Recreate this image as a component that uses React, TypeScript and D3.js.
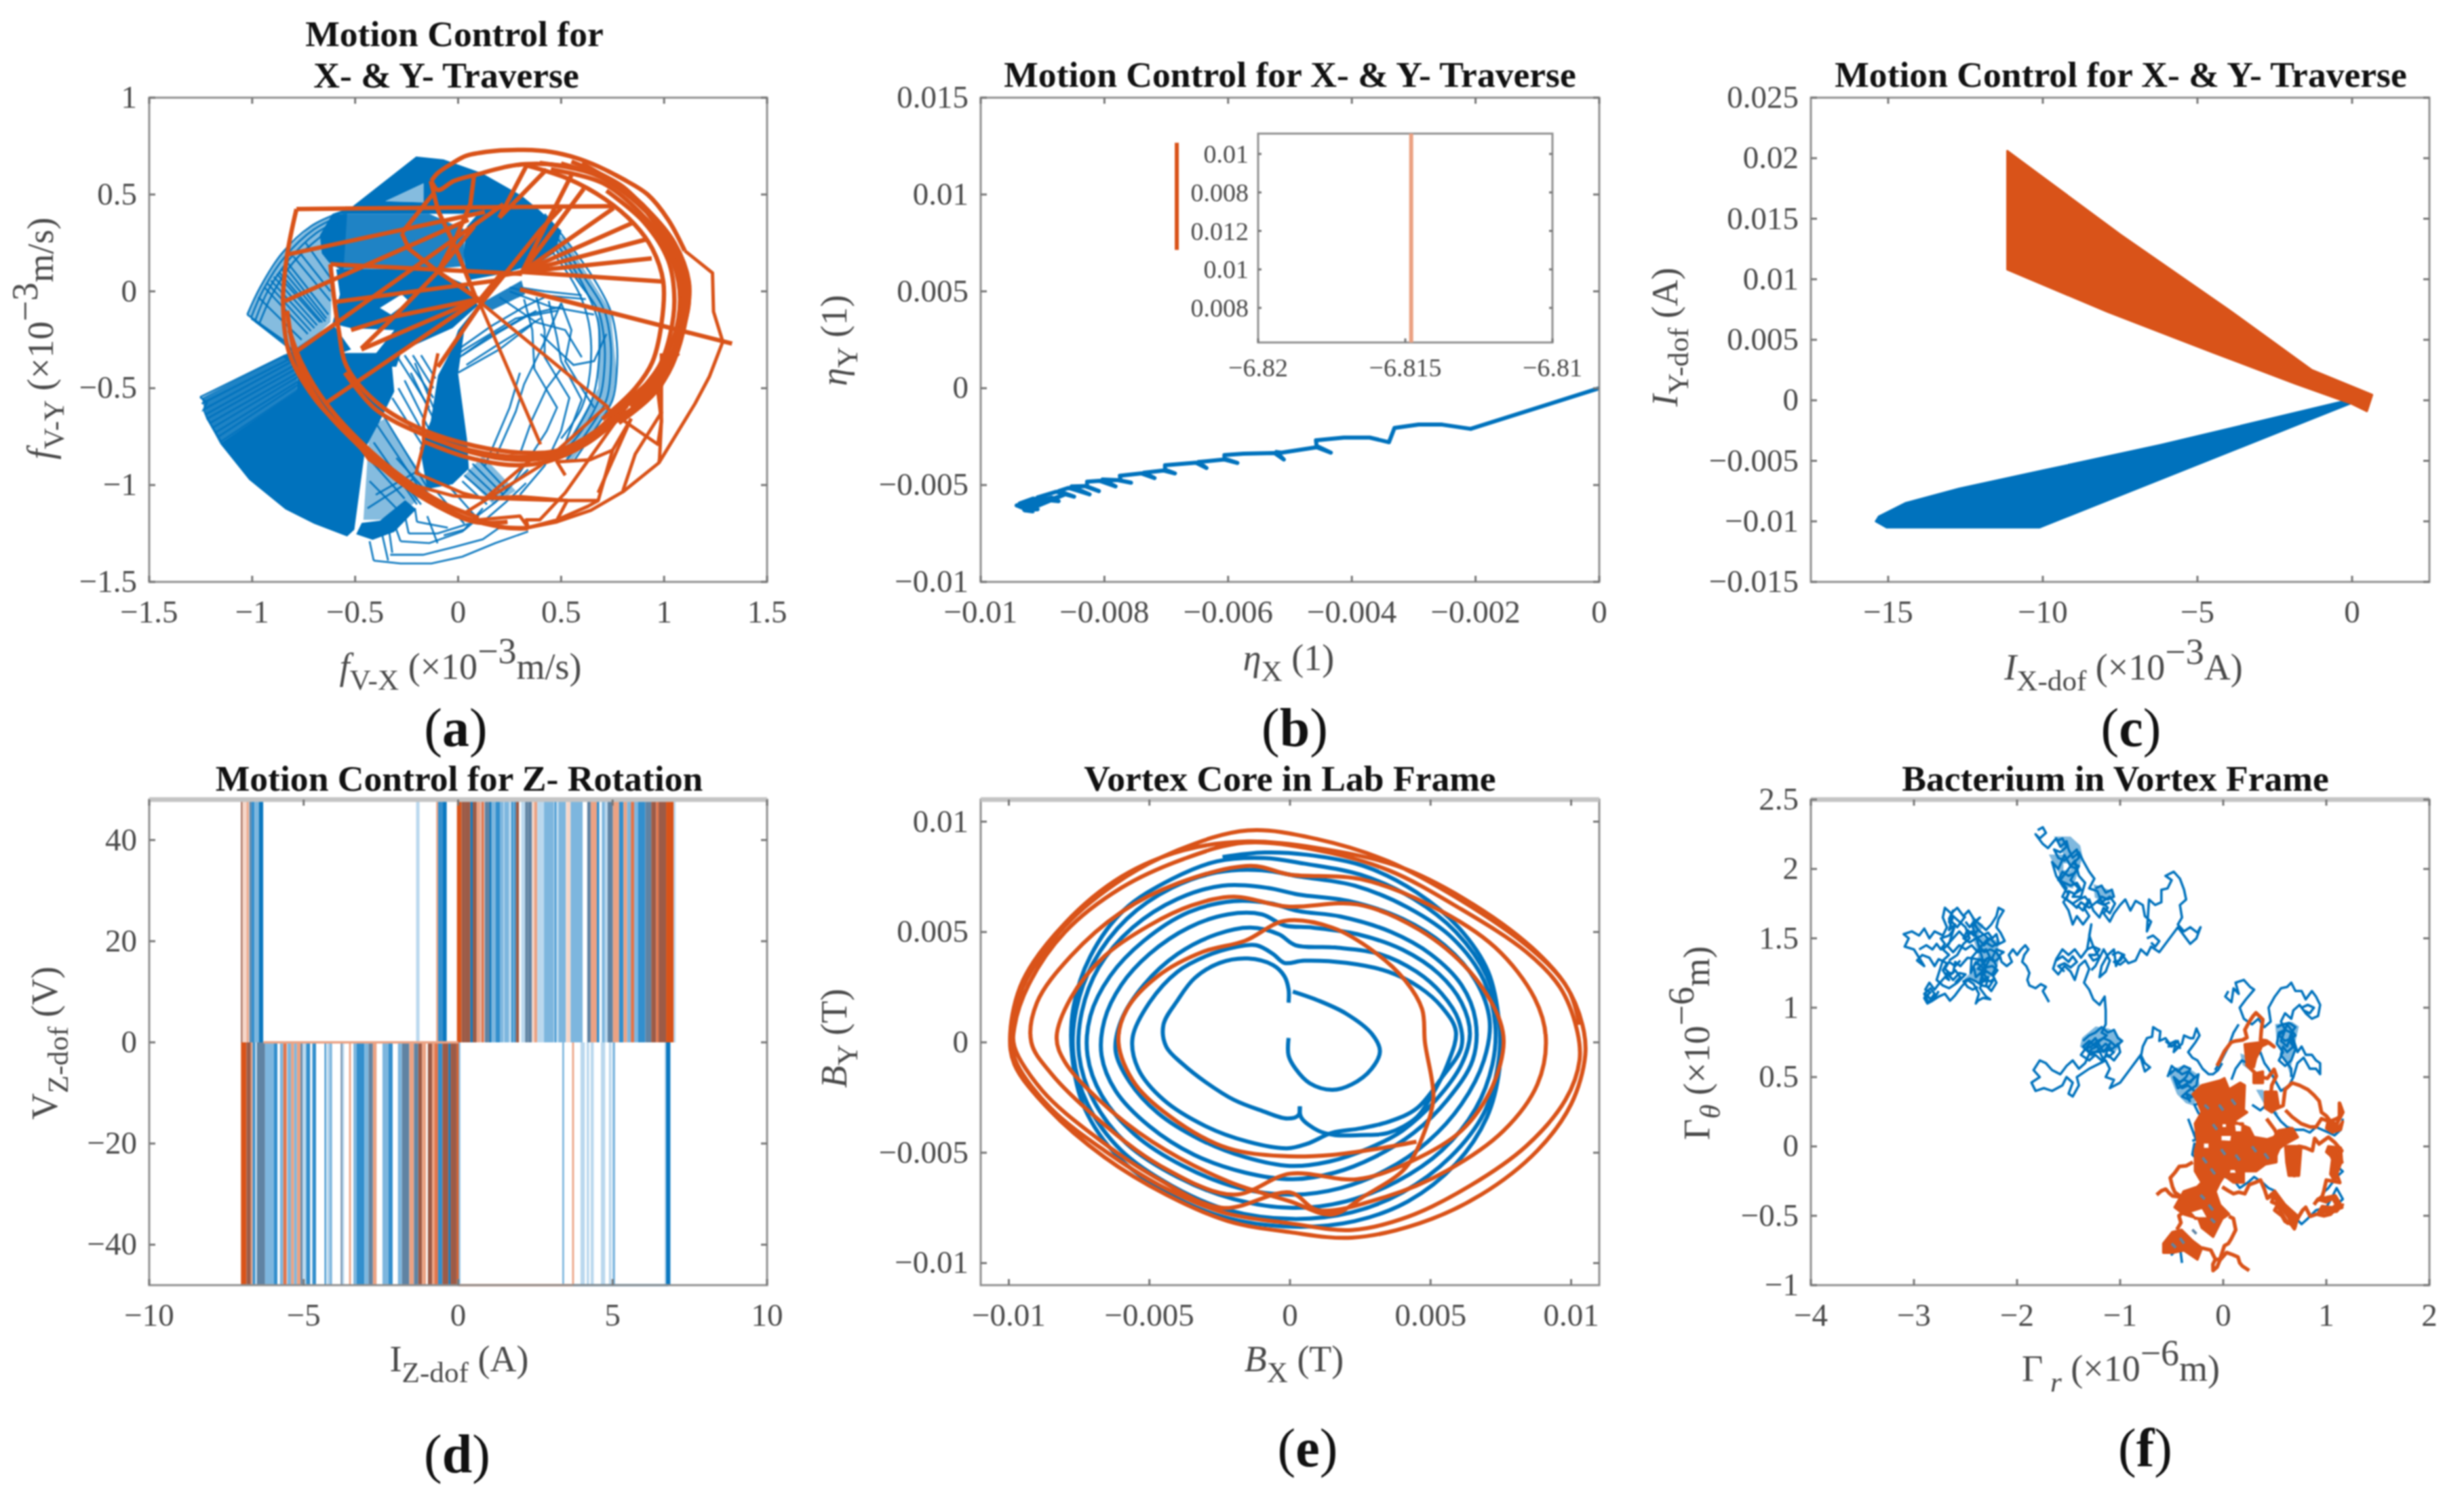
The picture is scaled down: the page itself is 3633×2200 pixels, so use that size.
import React from "react";
import * as d3 from "d3";

type P = [number, number];
const BLUE = "#0072BD";
const ORANGE = "#D95319";

// ---------- panel (a): f_V-X / f_V-Y, units 1e-3 m/s
const aXTicks = [-1.5, -1, -0.5, 0, 0.5, 1, 1.5];
const aYTicks = [-1.5, -1, -0.5, 0, 0.5, 1];
const aBlueSolid: P[][][] = [
  [[[-.521,.432],[-.204,.696],[-.071,.681],[.114,.611],[.308,.494],[.396,.418],[.502,.313],[.467,.196],[.396,.149],[.22,.091],[.043,.056],[.026,.196],[.043,.336],[.096,.4],[-.61,.4]],
   [[-.168,.558],[-.354,.465],[-.168,.459]]],
  [[[-.671,.29],[-.61,.4],[-.539,.4],[-.557,.102],[-.627,.149],[-.662,.196]]],
  [[[-.592,.114],[-.133,.114],[.043,.032],[.096,-.073],[-.027,-.19],[-.274,-.307],[-.3,-.389],[-.451,-.389],[-.38,-.295],[-.31,-.2],[-.521,-.19],[-.61,-.166],[-.574,-.015]],
   [[-.38,-.085],[-.274,-.015],[-.239,-.05],[-.327,-.12]]],
  [[[-.768,-.318],[-.327,-.318],[-.31,-.517],[-.38,-.669],[-.451,-.81],[-.504,-1.23],[-.539,-1.265],[-.7,-1.2],[-.839,-1.125],[-1.015,-.973],[-1.156,-.786],[-.786,-.517]]],
  [[[-.495,-1.254],[-.415,-1.283],[-.31,-1.242],[-.204,-1.125],[-.257,-1.078],[-.38,-1.184],[-.468,-1.195]]],
  [[[-.133,-.669],[-.098,-.435],[-.04,-.318],[.0,-.2],[.09,-.08],[.03,-.2],[0,-.424],[.043,-.763],[.052,-.915],[-.027,-.996],[-.15,-1.02],[-.186,-.81]]],
  [[[-.85,-.34],[-.61,-.166],[-.52,-.3],[-.77,-.4]]],
];
const aBlueDense: P[][] = [
  [[-.56,.4],[-.14,.4],[.03,.32],[.03,.13],[-.13,.115],[-.56,.115]],
  [[.114,-.06],[.308,.056],[.325,-.015],[.167,-.096]],
  [[-1.245,-.55],[-.83,-.32],[-.77,-.32],[-.786,-.517],[-1.156,-.786],[-1.22,-.66]],
];
const aBlueHatch: P[][] = [
  [[-1.024,-.12],[-.962,.02],[-.856,.196],[-.715,.336],[-.574,.406],[-.61,.12],[-.62,-.16],[-.79,-.33],[-.839,-.26]],
  [[-.43,-.7],[-.36,-.66],[-.14,-1.0],[-.22,-1.1],[-.38,-1.18],[-.46,-1.18]],
  [[.38,.36],[.52,.27],[.74,-.1],[.77,-.42],[.75,-.56],[.66,-.72],[.55,-.88],[.5,-.84],[.68,-.5],[.68,-.1],[.55,.1]],
  [[.03,-.95],[.12,-.85],[.28,-1.03],[.17,-1.1]],
  [[-.354,.465],[-.168,.558],[-.168,.459]],
];
const aBlueLines: P[][] = [
  [[-1.253,-.546],[-.839,-.33]],[[-1.253,-.546],[-1.22,-.575],[-1.236,-.61],[-.812,-.365]],[[-1.236,-.61],[-1.218,-.657],[-.786,-.40]],
  [[-1.218,-.657],[-1.192,-.704],[-.768,-.435]],[[-1.192,-.704],[-1.165,-.751],[-.76,-.47]],[[-1.165,-.751],[-1.139,-.798],[-.75,-.505]],
  [[-1.245,-.58],[-.82,-.35]],[[-1.226,-.635],[-.8,-.385]],[[-1.205,-.68],[-.775,-.42]],[[-1.18,-.73],[-.76,-.455]],[[-1.15,-.775],[-.75,-.49]],
  [[-1.024,-.12],[-.839,-.26],[-.79,-.33]],[[-1.005,-.14],[-.82,-.28]],[[-.985,-.155],[-.8,-.31]],
  [[-.909,.056],[-.698,-.19]],[[-.88,.09],[-.67,-.16]],[[-.856,.114],[-.645,-.155]],[[-.83,.15],[-.63,-.12]],[[-.8,.18],[-.62,-.05]],
  [[-.77,.2],[-.62,0]],[[-.74,.25],[-.62,.07]],[[-.94,.02],[-.73,-.22]],[[-.97,-.03],[-.76,-.25]],[[-.925,.04],[-.715,-.205]],[[-.895,.075],[-.685,-.175]],[[-.87,.1],[-.66,-.16]],[[-.845,.135],[-.64,-.14]],
  [[-.4,-.68],[-.16,-1.06]],[[-.37,-.63],[-.14,-1.03]],[[-.41,-.78],[-.2,-1.1]],[[-.42,-.88],[-.26,-1.07]],[[-.43,-.98],[-.3,-1.12]],
  [[-.32,-.55],[-.08,-.95]],[[-.29,-.5],[-.08,-.9]],[[-.26,-.46],[-.1,-.8]],[[-.23,-.42],[-.1,-.7]],[[-.21,-.37],[-.12,-.6]],
  [[-.3,-.86],[-.14,-1.05]],[[-.33,-.9],[-.18,-1.1]],[[-.4,-1.05],[-.2,-.93]],[[-.44,-1.12],[-.22,-.97]],
  [[-.3,-.33],[-.14,-.6]],[[-.26,-.33],[-.12,-.55]],[[-.22,-.33],[-.12,-.5]],[[-.18,-.33],[-.11,-.45]],
  [[.03,-.95],[.17,-1.08]],[[.05,-.92],[.2,-1.07]],[[.07,-.89],[.22,-1.05]],[[.09,-.86],[.24,-1.03]],[[.02,-.98],[.14,-1.1]],
  [[-.05,-1],[.1,-1.18]],[[-.1,-1.04],[.03,-1.2]],
  [[-.41,-1.39],[-.28,-1.405],[-.13,-1.405],[.02,-1.37],[.18,-1.3],[.34,-1.24]],
  [[-.41,-1.39],[-.43,-1.29]],[[-.34,-1.39],[-.37,-1.25]],[[-.33,-1.36],[-.17,-1.36],[-.02,-1.32],[.12,-1.28],[.2,-1.22]],
  [[-.32,-1.35],[-.34,-1.2]],[[-.28,-1.29],[-.14,-1.3],[.02,-1.24],[.1,-1.17]],[[-.28,-1.29],[-.31,-1.2]],
  [[-.1,-1.3],[-.15,-1.16]],[[-.24,-1.25],[-.1,-1.25],[.05,-1.2]],[[-.24,-1.25],[-.26,-1.15]],
  [[-.2,-1.19],[-.05,-1.22]],[[-.2,-1.19],[-.21,-1.12]],[[-.07,-1.26],[.03,-1.23],[.12,-1.12]],
  [[.08,-1.17],[.18,-1.09],[.26,-1.0],[.34,-.92]],[[.12,-1.19],[.23,-1.09],[.33,-.99]],
  [[0,-.3],[.16,-.18],[.32,-.08],[.42,-.03]],[[-.02,-.36],[.14,-.24],[.34,-.12],[.5,-.08]],[[-.03,-.34],[.28,-.14],[.48,-.1]],
  [[.0,-.42],[.2,-.3],[.36,-.17]],[[.25,.0],[.45,-.08],[.66,-.12]],[[.25,.02],[.42,-.02],[.62,-.04]],[[.3,.02],[.42,0],[.6,-.02]],
  [[.02,-.33],[.2,-.21],[.38,-.1]],[[.04,-.38],[.2,-.27],[.4,-.14]],
  [[.32,-.04],[.36,-.2],[.37,-.4],[.48,-.6],[.43,-.72],[.37,-.82],[.26,-1.0]],
  [[.38,-.03],[.42,-.2],[.42,-.34],[.54,-.55],[.5,-.72],[.42,-.9],[.3,-1.05]],
  [[.44,-.05],[.48,-.24],[.5,-.36],[.6,-.56],[.55,-.7],[.5,-.84]],
  [[.5,-.06],[.55,-.2],[.52,-.36],[.6,-.5],[.66,-.6]],
  [[.18,-.86],[.28,-.62],[.32,-.48],[.42,-.26],[.5,-.06]],[[.13,-.9],[.25,-.6],[.3,-.42]],[[.3,-.84],[.36,-.66],[.43,-.5],[.5,-.4]],
  [[.4,-.22],[.56,-.38],[.66,-.36],[.72,-.22]],[[.2,-.03],[.38,-.16],[.52,-.2],[.6,-.34]],
];
const aBlueArcs: P[][] = [
  [[-1.024,-.12],[-.962,.02],[-.856,.196],[-.715,.336],[-.574,.406]],
  [[-1.005,-.135],[-.945,.01],[-.84,.18],[-.7,.32],[-.57,.39]],
  [[-.985,-.15],[-.925,0],[-.82,.165],[-.69,.3],[-.57,.37]],
  [[-.965,-.165],[-.9,-.01],[-.8,.15],[-.67,.28],[-.57,.35]],
  [[.42,.4],[.52,.27],[.65,.08],[.74,-.1],[.77,-.26],[.77,-.42],[.75,-.56],[.66,-.72],[.56,-.88]],
  [[.4,.38],[.5,.25],[.62,.06],[.71,-.1],[.74,-.26],[.74,-.42],[.72,-.56],[.63,-.72],[.52,-.88]],
  [[.38,.36],[.47,.22],[.59,.04],[.68,-.1],[.71,-.26],[.71,-.4],[.69,-.54],[.6,-.72],[.5,-.84]],
  [[.44,.3],[.56,.12],[.64,-.04],[.68,-.16],[.68,-.4],[.65,-.56],[.56,-.74]],
  [[.46,.2],[.54,.08],[.6,-.04],[.64,-.2],[.64,-.42],[.6,-.6],[.5,-.76]],
];
const aOrangeThin: P[][] = [
  [[1.1,.21],[1.235,.095],[1.24,-.105],[1.285,-.26],[1.22,-.44],[1.15,-.58],[.975,-.885],[.8,-1.035],[.645,-1.13],[.48,-1.19],[.34,-1.22],[.19,-1.22]],
  [[.97,-.52],[.987,-.67],[.978,-.862],[.975,-.885]],
  [[.987,-.32],[.987,-.67],[.97,-.79],[.82,-.68],[.72,-.6]],
  [[-.64,-.575],[-.54,-.716],[-.433,-.868],[-.274,-.985],[-.027,-1.055],[.13,-1.067],[.3,-1.06],[.53,-1.08],[.68,-1.08],[.75,-.82],[.84,-.657]],
  [[-.098,-.32],[-.168,-.67],[-.168,-.786],[-.204,-.938],[.026,-1.043],[.114,-1.067],[.43,-1.078],[.53,-1.08],[.48,-1.18],[.34,-1.22]],
  [[.68,-1.08],[.63,-1.11],[.48,-1.18]],
  [[.34,-1.22],[.33,-1.18],[.396,-1.18],[.52,-1.04],[.775,-.657]],
  [[.713,-.6],[.396,-.903],[.043,-1.137],[.1,-1.18],[.3,-1.16],[.34,-1.22]],
  [[.396,-.83],[.13,-1.07]],[[.52,-.95],[.48,-.88],[.64,-.87],[.75,-.82]],
  [[.1,-.05],[.4,-.79]],[[.1,-.05],[.73,-.6]],[[.84,-.657],[.68,-1.04]],[[.99,-.62],[.86,-.84],[.8,-1.03]],
];
const aOrangeArcs: P[][] = [
  [[-.13,.57],[-.1,.61],[-.03,.66],[.04,.70],[.18,.725],[.32,.73],[.45,.72],[.57,.69],[.68,.645],[.8,.58],[.92,.5],[1.02,.37],[1.1,.21]],
  [[-.13,.57],[-.098,.523],[-.02,.57],[.096,.605],[.22,.64],[.325,.657],[.5,.65],[.66,.605],[.8,.53],[.92,.42],[1.02,.27],[1.09,.1],[1.12,-.05],[1.09,-.2],[1.03,-.38],[.97,-.52]],
  [[-.785,.425],[-.83,.19],[-.85,-.05],[-.82,-.318],[-.698,-.552],[-.52,-.751],[-.31,-.95],[-.133,-1.078],[.043,-1.172],[.22,-1.218],[.34,-1.224]],
  [[-.83,-.1],[-.79,-.33],[-.67,-.58],[-.49,-.79],[-.29,-.98],[-.1,-1.11],[.08,-1.19],[.24,-1.19]],
  [[-.82,-.2],[-.76,-.37],[-.64,-.58],[-.46,-.79],[-.27,-.96],[-.08,-1.09],[.1,-1.17]],
  [[-.62,.14],[-.6,-.055],[-.58,-.2],[-.54,-.39],[-.38,-.587],[-.168,-.716],[.08,-.798],[.31,-.833],[.484,-.821],[.66,-.728],[.8,-.587],[.96,-.435],[1.07,-.318]],
  [[-.55,-.42],[-.4,-.61],[-.168,-.74],[.06,-.82],[.29,-.855],[.47,-.84],[.65,-.75],[.82,-.59]],
  [[-.168,-.774],[.043,-.856],[.27,-.897],[.43,-.88],[.625,-.786],[.82,-.62]],
  [[-.14,-.745],[.06,-.83],[.29,-.87],[.46,-.85],[.64,-.75],[.82,-.59]],
  [[.396,.663],[.66,.605],[.872,.453],[1.014,.278],[1.10,.055],[1.093,-.13],[1.014,-.39],[.925,-.54],[.75,-.67]],
  [[.325,.652],[.537,.58],[.713,.476],[.855,.348],[.943,.22],[.996,.05],[.987,-.17],[.943,-.365],[.86,-.5],[.7,-.66]],
  [[.45,.63],[.7,.56],[.88,.41],[1.0,.25],[1.07,.05],[1.07,-.14],[1.0,-.36],[.9,-.52],[.74,-.64]],
  [[.5,.66],[.76,.56],[.92,.42],[1.05,.25],[1.12,.05],[1.11,-.12],[1.04,-.38],[.95,-.53],[.78,-.68]],
  [[.6,.66],[.84,.5],[.98,.32],[1.08,.12],[1.09,-.06],[1.06,-.27]],
  [[.55,.67],[.8,.54],[.95,.36],[1.04,.18],[1.09,.0],[1.08,-.18],[1.03,-.34],[.92,-.5]],
  [[.7,.6],[.9,.44],[1.03,.25],[1.1,.08],[1.1,-.08],[1.05,-.3],[.97,-.46],[.84,-.6]],
  [[.72,.52],[.9,.36],[1.02,.16],[1.05,-.04],[1.03,-.22],[.98,-.38],[.88,-.52]],
];
const aOrangeChords: P[][] = [
  [[-.785,.425],[.755,.44]],
  [[-.83,.19],[.13,.41]],
  [[-.62,.14],[.31,.09]],
  [[-.84,-.05],[.05,.37]],
  [[-.6,-.055],[.18,.055]],
  [[-.785,-.31],[.22,.45]],
  [[-.52,-.2],[-.31,-.13],[.1,-.04]],
  [[-.47,-.3],[.1,-.04]],
  [[-.47,-.295],[-.31,-.13],[-.098,.102],[.078,.336]],
  [[-.64,-.575],[.1,-.04]],
  [[.31,.1],[1.0,.05]],[[.31,.1],[.94,.17]],[[.31,.1],[.92,.27]],[[.31,.1],[.85,.355]],[[.31,.1],[.755,.43]],[[.31,.1],[.61,.53]],[[.31,.1],[.55,.60]],[[.2,.38],[.43,.63]],[[.2,.38],[.33,.645]],
  [[.3,.01],[1.33,-.27]],
  [[.5,.43],[.396,.313],[.237,.102],[.114,-.06],[-.098,-.39]],
  [[.078,.605],[.06,.453],[-.01,.278],[-.098,.102]],
  [[-.133,.57],[-.098,.418],[-.01,.22],[.043,.079],[.096,-.06]],
  [[-.274,.301],[-.239,.219],[-.098,.102],[.096,-.038]],
  [[-.274,.301],[-.116,.511]],
  [[.1,-.05],[.2,.08],[.31,.1]],
];

// ---------- panel (b): eta_X / eta_Y
const bXTicks = [-0.01, -0.008, -0.006, -0.004, -0.002, 0];
const bXLabels = ["−0.01", "−0.008", "−0.006", "−0.004", "−0.002", "0"];
const bYTicks = [-0.01, -0.005, 0, 0.005, 0.01, 0.015];
const bYLabels = ["−0.01", "−0.005", "0", "0.005", "0.01", "0.015"];
const bBlue: P[] = [[0,0],[-.00208,-.0021],[-.00254,-.00188],[-.00292,-.00188],[-.00331,-.00205],[-.0034,-.00279],[-.00371,-.00255],[-.00413,-.00255],[-.00458,-.00269],[-.00457,-.00298],[-.00434,-.00333],[-.00457,-.00305],[-.00514,-.00333],[-.00522,-.00329],[-.0051,-.00368],[-.00525,-.00335],[-.00575,-.00338],[-.00606,-.00345],[-.00606,-.00364],[-.00585,-.00386],[-.00606,-.00368],[-.00648,-.00381],[-.00635,-.00412],[-.00652,-.00385],[-.00702,-.00398],[-.00702,-.00421],[-.00686,-.0044],[-.00704,-.00425],[-.00736,-.00436],[-.00719,-.00464],[-.0074,-.0044],[-.00775,-.00452],[-.00774,-.00476],[-.00757,-.00488],[-.00778,-.00475],[-.00803,-.00471],[-.00782,-.00507],[-.00808,-.00478],[-.00828,-.00483],[-.00828,-.00507],[-.00809,-.00531],[-.00832,-.00505],[-.00853,-.00507],[-.00824,-.00548],[-.00858,-.00515],[-.00874,-.00531],[-.00849,-.0056],[-.00878,-.00535],[-.00908,-.00564],[-.00874,-.00583],[-.00915,-.0057],[-.00937,-.00595],[-.00929,-.00631],[-.00916,-.00636],[-.00942,-.00605],[-.0090,-.00575],[-.00925,-.00625],[-.00893,-.00585],[-.00935,-.00615],[-.00908,-.00625],[-.00925,-.00598],[-.00885,-.00565],[-.0091,-.0061],[-.00865,-.0055],[-.0093,-.0062],[-.00938,-.0061],[-.0092,-.00632]];
const bOrange: P[] = [[-.00683,.01267],[-.00683,.00714]];
const bInsetXTicks = [-6.82, -6.815, -6.81];
const bInsetXLabels = ["−6.82", "−6.815", "−6.81"];
const bInsetYTicks = [0, 1, 2, 3, 4];
const bInsetYLabels = ["0.01", "0.008", "0.012", "0.01", "0.008"];
const bInsetOrange: P[] = [[-6.8148, -0.53], [-6.8148, 4.9]];

// ---------- panel (c): I_X-dof / I_Y-dof
const cXTicks = [-15, -10, -5, 0];
const cYTicks = [-0.015, -0.01, -0.005, 0, 0.005, 0.01, 0.015, 0.02, 0.025];
const cYLabels = ["−0.015", "−0.01", "−0.005", "0", "0.005", "0.01", "0.015", "0.02", "0.025"];
const cOrange: P[] = [[-11.15,.0206],[-7.5,.0137],[-4,.0075],[-1.3,.0025],[.65,.00045],[.48,-.0009],[0,-.0003],[-1.86,.0014],[-4.45,.0039],[-7.9,.0073],[-11.15,.0108]];
const cBlue: P[] = [[.02,.0001],[-6.2,-.0037],[-10,-.0058],[-12.7,-.0073],[-14.45,-.0085],[-15.3,-.0096],[-15.4,-.0100],[-15.05,-.0105],[-10.1,-.0105],[.0,-.0002]];

// ---------- panel (d): I_Z-dof / V_Z-dof; [from, to, trace class]
const dXTicks = [-10, -5, 0, 5, 10];
const dYTicks = [-40, -20, 0, 20, 40];
type Bar = [number, number, string];
const dUpper: Bar[] = [
  [-7.03,-6.98,"br"],[-6.98,-6.84,"po"],[-6.84,-6.78,"lo"],[-6.76,-6.69,"gb"],[-6.69,-6.59,"mb"],[-6.59,-6.45,"lb"],[-6.45,-6.31,"sb"],
  [-1.36,-1.25,"pb"],[-.71,-.65,"lo"],[-.65,-.51,"mb"],[-.51,-.37,"sb"],
  [-.04,.11,"so"],[.11,.21,"br"],[.21,.40,"br"],[.40,.47,"sb"],[.47,.60,"br"],[.60,.73,"lo"],[.73,.75,"pb"],[.75,.84,"mo"],[.84,.86,"po"],[.86,1.02,"gb"],[1.02,1.08,"sb"],[1.08,1.21,"lb"],[1.21,1.35,"mb"],[1.35,1.47,"lb"],[1.47,1.49,"pb"],[1.49,1.65,"lb"],[1.65,1.73,"pb"],[1.73,1.78,"sb"],[1.80,1.87,"mb"],[1.87,1.97,"br"],[2.04,2.17,"pb"],[2.17,2.26,"gb"],[2.26,2.39,"gb"],[2.39,2.46,"po"],[2.46,2.56,"lo"],[2.56,2.71,"pb"],[2.71,2.78,"pb"],[2.78,3.10,"lb"],[3.12,3.18,"mb"],[3.18,3.25,"pb"],[3.25,3.49,"lb"],[3.49,3.51,"po"],[3.51,3.64,"po"],[3.64,4.03,"lb"],[4.18,4.29,"gb"],[4.29,4.49,"lo"],[4.49,4.57,"mb"],[4.65,4.75,"lb"],[4.75,4.84,"pb"],[4.84,5.01,"gb"],[5.01,5.21,"lo"],[5.21,5.35,"mb"],[5.35,5.47,"lo"],[5.47,5.59,"lb"],[5.59,5.70,"mo"],[5.70,5.82,"lb"],[5.82,6.06,"mb"],[6.06,6.25,"gb"],[6.25,6.41,"br"],[6.41,6.49,"mo"],[6.49,6.73,"br"],[6.73,6.98,"so"],[6.98,7.04,"pb"],
];
const dLower: Bar[] = [
  [-7.03,-6.85,"so"],[-6.85,-6.71,"br"],[-6.71,-6.65,"lo"],[-6.65,-6.57,"mb"],[-6.57,-6.51,"pb"],[-6.51,-6.25,"gb"],[-6.25,-5.97,"lb"],[-5.97,-5.85,"mb"],[-5.77,-5.66,"lb"],[-5.66,-5.55,"mo"],[-5.53,-5.41,"lb"],[-5.41,-5.31,"lo"],[-5.31,-5.22,"lb"],[-5.22,-5.10,"lo"],[-5.10,-5.04,"gb"],[-5.04,-4.92,"pb"],[-4.92,-4.79,"mb"],[-4.72,-4.60,"mb"],[-4.32,-4.28,"sb"],[-4.25,-4.16,"pb"],[-4.16,-4.08,"lb"],[-3.80,-3.75,"gb"],[-3.75,-3.69,"pb"],[-3.53,-3.47,"lo"],[-3.39,-3.29,"lb"],[-3.29,-3.03,"mb"],[-3.03,-2.9,"lb"],[-2.90,-2.76,"gb"],[-2.76,-2.64,"lo"],[-2.45,-2.25,"lb"],[-2.25,-2.12,"mb"],[-1.95,-1.82,"lb"],[-1.82,-1.58,"gb"],[-1.58,-1.43,"lo"],[-1.43,-1.29,"gb"],[-1.29,-1.17,"br"],[-1.17,-1.04,"lo"],[-.98,-.84,"br"],[-.84,-.77,"lo"],[-.77,-.65,"mo"],[-.65,-.51,"mb"],[-.51,-.31,"br"],[-.31,-.25,"sb"],[-.25,-.04,"br"],[-.04,.02,"so"],[.02,.07,"lb"],
  [3.37,3.43,"lb"],[3.69,3.75,"lo"],[3.96,4.10,"pb"],[4.16,4.24,"pb"],[4.29,4.39,"pb"],[4.62,4.76,"pb"],[4.88,4.96,"pb"],[5.0,5.08,"lb"],[6.68,6.73,"pb"],[6.73,6.87,"sb"],
];
const dEdgesOrange: P[][] = [[[-7,48],[7,48]],[[-6.3,0],[0,0]],[[0,-48],[3.72,-48]]];
const dEdgesBlue: P[][] = [[[3.72,-48],[6.8,-48]]];

// ---------- panel (e): B_X / B_Y, units 1e-3 T
const eTicks = [-10, -5, 0, 5, 10];
const eLabels = ["−0.01", "−0.005", "0", "0.005", "0.01"];
const eBlue: P[][] = [
  [[-.05,.2],[-.05,-.6],[.2,-1.2],[.7,-1.85],[1.5,-2.15],[2.2,-1.9],[2.9,-1.2],[3.2,-.4],[2.9,.4],[2,1.3],[1,1.9],[.1,2.3]],
  [[-.05,1.8],[-.05,2.4],[-.2,3],[-.6,3.5],[-1.5,3.8],[-2.5,3.6],[-3.4,2.9],[-4,1.9],[-4.5,.8],[-4.4,-.2],[-3.8,-1],[-3,-1.8],[-2,-2.6],[-1,-3.1],[-.1,-3.45],[.3,-3.3],[.35,-2.9]],
  [[.35,-2.9],[.4,-3.4],[1,-4],[1.6,-4.2],[2.5,-4.2],[3.5,-4.1],[4.5,-3.4],[5,-2.5],[5.6,-1],[5.9,.5],[5.4,1.6],[4.6,2.5],[3.5,3.2],[2,3.6],[.5,3.7],[-.2,3.6],[-.6,4],[-1.2,4.4],[-2,4.3],[-3,3.9],[-4,3.2],[-5,1.8],[-5.6,.2],[-5.4,-1.2],[-4.5,-2.6],[-3,-3.8],[-1.5,-4.5],[-.1,-4.8],[.6,-4.6],[1.5,-4.1],[2.5,-3.9],[3.5,-3.6],[4.5,-3],[5.4,-1.6],[6.1,-.2],[6,1],[5.4,2.2],[4.5,3.2],[3.2,4],[1.6,4.3],[.2,4.4],[-.4,4.9],[-1.4,5.2],[-2.6,4.9],[-4,4],[-5.2,2.6],[-6,1],[-6.2,-.4],[-5.7,-1.8],[-4.7,-3.2],[-3.2,-4.4],[-1.6,-5.2],[0,-5.6],[1.4,-5.4],[2.8,-4.8],[4,-4],[5.2,-2.6],[6.1,-1],[6.4,.4],[6.1,1.8],[5.3,3.1],[4,4.2],[2.4,4.9],[.8,5.2],[-.2,5.3],[-1,5.8],[-2.2,5.8],[-3.6,5.2],[-5,4],[-6,2.6],[-6.6,1],[-6.7,-.6],[-6.2,-2.2],[-5,-3.8],[-3.4,-5.1],[-1.6,-5.9],[.1,-6.2],[1.6,-5.9],[3,-5.2],[4.4,-4.1],[5.6,-2.6],[6.5,-.8],[6.6,1],[6.1,2.6],[5,4],[3.6,5],[1.8,5.7],[.3,5.95],[-.7,6.3],[-2,6.4],[-3.6,5.9],[-5.2,4.6],[-6.4,3],[-7.1,1.2],[-7.2,-.6],[-6.7,-2.4],[-5.5,-4.2],[-3.8,-5.6],[-1.8,-6.6],[.1,-6.9],[1.8,-6.6],[3.4,-5.8],[4.9,-4.5],[6.1,-2.8],[6.9,-.8],[7.1,1],[6.6,2.8],[5.5,4.4],[4,5.6],[2.1,6.4],[.3,6.7],[-.8,7],[-2.4,7.1],[-4,6.5],[-5.6,5.2],[-6.8,3.4],[-7.4,1.4],[-7.5,-.6],[-7,-2.6],[-5.8,-4.6],[-4,-6.1],[-2,-7.1],[.1,-7.5],[2,-7.2],[3.8,-6.3],[5.4,-4.9],[6.6,-3],[7.2,-1],[7.3,.8],[6.9,2.8],[5.8,4.7],[4.2,6.1],[2.3,7.1],[.4,7.5],[-1,7.8],[-2.6,7.7],[-4.2,7],[-5.8,5.6],[-7,3.6],[-7.6,1.5],[-7.7,-.6],[-7.2,-2.8],[-6,-4.9],[-4.2,-6.5],[-2.2,-7.6],[.1,-8],[2.2,-7.7],[4,-6.8],[5.7,-5.2],[6.9,-3.2],[7.4,-1],[7.45,.8],[7,3],[5.9,5],[4.4,6.5],[2.5,7.6],[.5,8.1],[-.9,8.35],[-2.6,8.2],[-4.2,7.4],[-5.9,6],[-7.1,3.9],[-7.7,1.6],[-7.75,-.6],[-7.3,-3],[-6.1,-5.2],[-4.4,-6.8],[-2.4,-7.9],[.1,-8.35],[2.3,-8.1],[4.2,-7.2],[5.9,-5.5],[7,-3.4],[7.45,-1.2],[7.45,.8],[7.05,3.2],[6,5.2],[4.5,6.8],[2.6,8],[.6,8.5],[-.9,8.6],[-2.4,8.4]],
];
const eOrange: P[] = [[4.5,-4.5],[3.2,-4.8],[1.5,-5.1],[-.3,-5.15],[-2.2,-4.8],[-4,-3.6],[-5.5,-1.9],[-6.1,0],[-5.8,1.5],[-4.7,3],[-3.1,4.1],[-1.6,4.6],[-.2,5.5],[1.5,5.2],[3,4.1],[4.1,2.8],[4.7,1.5],[4.8,0],[5.1,-2.5],[4.8,-4],[4.1,-5.7],[2.6,-7],[1.5,-7.8],[0,-7.2],[-2.2,-6.3],[-4.9,-4.5],[-6.8,-2.6],[-8,-.9],[-8.3,.2],[-7.8,2],[-6.6,3.9],[-5,5.3],[-3.5,6.2],[-2,6.6],[-.1,6.15],[2.4,6.25],[4.6,5.1],[6.4,3.2],[7.4,1.2],[7.6,0],[7.2,-2],[6.1,-4],[4.3,-5.4],[2.4,-6.2],[0,-5.95],[-2,-6.9],[-4.6,-5.6],[-6.9,-3.4],[-8.5,-1.4],[-9.2,0],[-9,1.8],[-7.8,3.9],[-6,5.9],[-4,7.2],[-1.4,8],[0,7.6],[2.5,7.4],[5,6.2],[7.3,4.3],[8.7,2],[9.1,.2],[8.8,-1.9],[7.6,-4],[5.6,-5.8],[3.4,-7],[1,-7.6],[0,-6.8],[-2.4,-7.5],[-4.8,-6.1],[-7,-4.2],[-8.8,-2.2],[-9.8,-.2],[-9.8,.7],[-9.3,2.6],[-8,5],[-6,7],[-3.8,8.3],[-1.6,9.05],[1,8.7],[3.5,7.8],[6,6.1],[8.4,4.1],[9.6,2.5],[10.2,.6],[10.3,-.8],[9.8,-2.6],[8.4,-4.7],[6.4,-6.5],[4.2,-7.9],[2.2,-8.5],[0,-8.2],[-2.4,-7.7],[-4.6,-6.5],[-6.6,-4.9],[-8.5,-3],[-9.7,-1],[-9.9,0],[-9.6,2.2],[-8.2,5],[-6.2,7.2],[-4,8.7],[-1.5,9.6],[1,9.2],[3.5,8.2],[6,6.5],[8.6,4.2],[9.8,2.6],[10.4,.8],[10.5,-.6],[10,-2.8],[8.8,-4.9],[6.8,-6.9],[4.6,-8.2],[2.2,-8.85],[0,-8.6],[-2.2,-8.1],[-4.4,-6.9],[-6.6,-5.2],[-8.6,-3],[-9.8,-1],[-9.95,.4],[-9.5,2.8],[-8,5.4],[-6,7.5],[-3.8,8.7],[-1.5,9.1],[1,8.8],[3.8,8],[6.2,6.5],[8.6,4.3],[9.9,2.4],[10.3,.8]];

// ---------- panel (f): Gamma_r / Gamma_theta, units 1e-6 m
const fXTicks = [-4, -3, -2, -1, 0, 1, 2];
const fYTicks = [-1, -0.5, 0, 0.5, 1, 1.5, 2, 2.5];
const fBlueDense: P[][][] = [
  [[[-2.44,1.647],[-2.327,1.598],[-2.374,1.517],[-2.186,1.484],[-2.174,1.354],[-2.21,1.24],[-2.35,1.183],[-2.515,1.207],[-2.397,1.289],[-2.374,1.386],[-2.421,1.484]]],
  [[[-1.645,2.234],[-1.481,2.234],[-1.387,2.169],[-1.364,2.087],[-1.458,1.859],[-1.552,1.875],[-1.598,1.973],[-1.692,2.104],[-1.552,2.104],[-1.598,2.201]],[[-1.55,2.04],[-1.48,2.04],[-1.48,1.99],[-1.55,1.99]]],
  [[[-1.258,1.892],[-1.082,1.843],[-1.058,1.794],[-1.176,1.769],[-1.246,1.794]]],
  [[[-1.368,.784],[-1.237,.865],[-1.105,.849],[-.974,.767],[-1.04,.686],[-1.303,.67],[-1.39,.719]]],
  [[[-.536,.539],[-.383,.588],[-.251,.523],[-.208,.376],[-.295,.295],[-.361,.311],[-.448,.376]]],
  [[[.504,.882],[.668,.898],[.734,.865],[.69,.719],[.647,.523],[.603,.621],[.515,.784]]],
  [[[.165,.67],[.23,.653],[.274,.539],[.187,.588]]],
  [[[.318,.409],[.428,.262],[.537,.23],[.384,.409]]],
];
const fBlue: P[][] = [
  [[-1.69,1.04],[-1.72,1.08],[-1.75,1.12],[-1.72,1.15],[-1.77,1.17],[-1.82,1.14],[-1.88,1.16],[-1.9,1.2],[-1.88,1.25],[-1.91,1.3],[-1.95,1.33],[-1.93,1.38],[-1.89,1.42],[-1.92,1.45],[-1.96,1.42],[-2.0,1.38],[-2.04,1.42],[-2.08,1.38],[-2.05,1.33],[-2.1,1.3],[-2.15,1.33],[-2.17,1.38],[-2.13,1.4],[-2.2,1.42],[-2.24,1.36],[-2.2,1.3],[-2.24,1.24],[-2.2,1.18],[-2.25,1.12],[-2.3,1.16],[-2.28,1.22],[-2.33,1.2],[-2.36,1.14],[-2.3,1.08],[-2.26,1.06],[-2.33,1.07],[-2.38,1.05],[-2.4,1.03],[-2.37,1.1],[-2.42,1.17],[-2.48,1.2],[-2.54,1.15],[-2.6,1.09],[-2.65,1.05],[-2.7,1.1],[-2.76,1.08],[-2.82,1.05],[-2.87,1.03],[-2.9,1.07],[-2.84,1.11],[-2.89,1.13],[-2.85,1.18],[-2.8,1.13],[-2.76,1.17],[-2.7,1.22],[-2.66,1.2],[-2.72,1.27],[-2.68,1.32],[-2.76,1.35],[-2.8,1.3],[-2.85,1.36],[-2.92,1.38],[-2.97,1.34],[-2.9,1.3],[-3.0,1.42],[-3.09,1.44],[-3.05,1.5],[-3.1,1.53],[-3.02,1.55],[-2.95,1.52],[-2.9,1.57],[-2.85,1.5],[-2.8,1.55],[-2.72,1.52],[-2.68,1.58],[-2.72,1.65],[-2.7,1.72],[-2.64,1.68],[-2.58,1.72],[-2.52,1.66],[-2.47,1.7],[-2.42,1.64],[-2.36,1.6],[-2.3,1.56],[-2.25,1.6],[-2.2,1.66],[-2.18,1.72],[-2.13,1.7],[-2.18,1.64],[-2.2,1.58],[-2.16,1.54],[-2.12,1.48],[-2.2,1.45],[-2.26,1.5],[-2.32,1.45],[-2.38,1.5],[-2.44,1.55],[-2.5,1.5],[-2.56,1.55],[-2.62,1.5],[-2.68,1.45],[-2.62,1.4],[-2.56,1.45],[-2.5,1.42],[-2.44,1.45],[-2.38,1.4],[-2.3,1.42],[-2.26,1.36],[-2.3,1.3],[-2.36,1.35],[-2.42,1.3],[-2.4,1.22],[-2.34,1.26],[-2.28,1.2],[-2.36,1.18],[-2.32,1.28],[-2.4,1.33],[-2.45,1.25],[-2.44,1.36],[-2.35,1.44],[-2.28,1.5],[-2.36,1.55],[-2.42,1.6],[-2.36,1.65],[-2.44,1.6],[-2.4,1.52],[-2.3,1.26],[-2.38,1.28],[-2.3,1.34],[-2.48,1.36],[-2.55,1.3],[-2.6,1.33],[-2.62,1.25],[-2.68,1.25],[-2.62,1.2],[-2.56,1.25],[-2.5,1.24],[-2.58,1.18],[-2.66,1.14],[-2.72,1.16],[-2.78,1.2],[-2.72,1.34],[-2.66,1.38],[-2.72,1.42],[-2.66,1.46],[-2.6,1.6],[-2.66,1.56],[-2.62,1.66],[-2.56,1.62],[-2.5,1.58],[-2.46,1.5],[-2.52,1.46],[-2.58,1.38],[-2.66,1.34]],
  [[-2.5,1.62],[-2.46,1.58],[-2.42,1.62],[-2.38,1.56],[-2.42,1.52],[-2.48,1.56],[-2.52,1.5],[-2.46,1.47],[-2.4,1.5],[-2.34,1.52],[-2.28,1.54],[-2.24,1.5],[-2.2,1.53],[-2.18,1.47],[-2.24,1.44],[-2.3,1.47],[-2.36,1.44],[-2.32,1.4],[-2.26,1.42],[-2.2,1.4],[-2.17,1.36],[-2.22,1.33],[-2.28,1.36],[-2.34,1.33],[-2.3,1.29],[-2.24,1.3],[-2.19,1.27],[-2.23,1.23],[-2.29,1.26],[-2.35,1.24],[-2.32,1.2],[-2.26,1.19],[-2.22,1.21],[-2.27,1.15],[-2.34,1.16],[-2.4,1.19],[-2.46,1.21],[-2.52,1.19],[-2.48,1.15],[-2.43,1.13],[-2.38,1.15]],
  [[-2.55,1.34],[-2.6,1.3],[-2.66,1.33],[-2.7,1.28],[-2.64,1.24],[-2.6,1.27],[-2.55,1.22],[-2.6,1.18]],
  [[-2.95,1.42],[-2.88,1.45],[-2.82,1.42],[-2.78,1.46],[-2.74,1.42],[-2.7,1.46],[-2.74,1.5],[-2.66,1.52],[-2.62,1.56],[-2.66,1.62],[-2.62,1.7],[-2.66,1.64],[-2.58,1.58],[-2.54,1.62],[-2.5,1.66]],
  [[-2.88,1.1],[-2.84,1.06],[-2.8,1.1],[-2.84,1.14],[-2.9,1.1],[-2.86,1.04],[-2.8,1.07],[-2.76,1.12]],
  [[-1.8,2.28],[-1.75,2.3],[-1.72,2.26],[-1.78,2.22],[-1.82,2.25],[-1.75,2.18],[-1.7,2.15],[-1.62,2.22],[-1.58,2.16],[-1.52,2.2],[-1.5,2.14],[-1.46,2.08],[-1.4,2.12],[-1.36,2.06],[-1.3,1.98],[-1.25,1.93],[-1.3,1.86],[-1.22,1.84],[-1.18,1.76],[-1.1,1.8],[-1.05,1.75],[-1.1,1.68],[-1.16,1.72],[-1.2,1.65],[-1.26,1.7],[-1.3,1.78],[-1.35,1.72],[-1.3,1.66],[-1.36,1.6],[-1.42,1.66],[-1.46,1.6],[-1.5,1.7],[-1.55,1.76],[-1.5,1.82],[-1.56,1.88],[-1.62,1.95],[-1.66,2.05],[-1.6,2.0],[-1.54,2.1],[-1.48,2.02],[-1.42,2.0],[-1.48,1.92],[-1.4,1.86],[-1.46,1.8],[-1.38,1.8],[-1.34,1.9],[-1.4,1.95],[-1.44,2.06],[-1.52,1.98],[-1.58,1.92],[-1.52,1.86],[-1.56,1.8],[-1.48,1.76],[-1.42,1.72],[-1.38,1.76],[-1.3,1.72],[-1.2,1.78],[-1.12,1.72],[-1.16,1.68],[-1.1,1.62],[-1.06,1.68],[-1.0,1.74],[-.95,1.78],[-.9,1.7],[-.85,1.77],[-.78,1.74],[-.76,1.66],[-.7,1.62],[-.74,1.55],[-.72,1.78],[-.66,1.74],[-.6,1.76],[-.6,1.85],[-.54,1.86],[-.5,1.92],[-.56,1.95],[-.48,1.98],[-.42,1.93],[-.38,1.85],[-.36,1.78],[-.42,1.74],[-.4,1.65],[-.44,1.6],[-.38,1.55],[-.32,1.58],[-.25,1.54],[-.22,1.58],[-.26,1.5],[-.32,1.46],[-.36,1.5],[-.44,1.58],[-.5,1.52],[-.56,1.46],[-.62,1.4],[-.7,1.44],[-.74,1.38],[-.8,1.42],[-.85,1.34],[-.92,1.32],[-.98,1.38],[-1.04,1.3],[-1.06,1.42],[-1.12,1.38],[-1.18,1.3],[-1.2,1.22],[-1.14,1.26],[-1.1,1.34],[-1.16,1.42],[-1.2,1.36],[-1.26,1.44],[-1.3,1.52],[-1.28,1.6],[-1.32,1.42],[-1.38,1.36],[-1.44,1.42],[-1.5,1.38],[-1.56,1.42],[-1.62,1.35],[-1.65,1.28],[-1.6,1.24],[-1.54,1.3],[-1.48,1.26],[-1.44,1.2],[-1.4,1.3],[-1.34,1.34],[-1.3,1.28],[-1.35,1.18],[-1.3,1.13],[-1.26,1.06],[-1.2,1.02],[-1.15,1.08],[-1.14,.98],[-1.14,.88],[-1.18,.82],[-1.13,.8],[-1.2,.76]],
  [[-1.62,2.2],[-1.56,2.22],[-1.52,2.16],[-1.58,2.12],[-1.64,2.14],[-1.6,2.08],[-1.54,2.06],[-1.48,2.1],[-1.42,2.14],[-1.4,2.08],[-1.46,2.04],[-1.4,2.02],[-1.44,1.97],[-1.5,1.95],[-1.56,1.98],[-1.6,1.92],[-1.54,1.9],[-1.48,1.88],[-1.42,1.9],[-1.38,1.85],[-1.44,1.82],[-1.5,1.84],[-1.52,1.78],[-1.46,1.75],[-1.4,1.78],[-1.34,1.8],[-1.3,1.76],[-1.36,1.7],[-1.42,1.74]],
  [[-1.24,1.86],[-1.18,1.88],[-1.14,1.83],[-1.08,1.85],[-1.06,1.8],[-1.12,1.78],[-1.18,1.8],[-1.22,1.76],[-1.16,1.74],[-1.1,1.76]],
  [[-1.62,1.34],[-1.56,1.37],[-1.5,1.33],[-1.46,1.37],[-1.42,1.33],[-1.48,1.29],[-1.54,1.32],[-1.6,1.3],[-1.54,1.26]],
  [[-1.32,1.42],[-1.26,1.44],[-1.2,1.42],[-1.24,1.38],[-1.3,1.38],[-1.26,1.34],[-1.2,1.36],[-1.24,1.3],[-1.28,1.27]],
  [[-1.08,1.38],[-1.02,1.4],[-.96,1.38],[-1.0,1.34],[-1.06,1.33],[-1.0,1.31],[-.95,1.34]],
  [[-.74,1.5],[-.68,1.52],[-.62,1.48],[-.66,1.44],[-.7,1.47]],
  [[-1.2,.76],[-1.24,.72],[-1.3,.76],[-1.36,.72],[-1.28,.66],[-1.2,.7],[-1.14,.74],[-1.08,.7],[-1.02,.74],[-1.0,.68],[-1.06,.62],[-1.12,.66],[-1.18,.62],[-1.24,.66],[-1.3,.62],[-1.38,.66],[-1.32,.72],[-1.24,.78],[-1.16,.68],[-1.1,.74],[-1.16,.62],[-1.22,.72],[-1.28,.7],[-1.34,.6],[-1.4,.56],[-1.46,.62],[-1.52,.58],[-1.58,.52],[-1.66,.55],[-1.72,.6],[-1.78,.62],[-1.84,.55],[-1.78,.5],[-1.86,.46],[-1.82,.4],[-1.74,.42],[-1.66,.4],[-1.56,.44],[-1.52,.5],[-1.46,.46],[-1.5,.38],[-1.46,.36],[-1.4,.44],[-1.42,.5],[-1.3,.56],[-1.14,.62],[-1.1,.56],[-1.14,.5],[-1.06,.48],[-1.1,.42],[-1.0,.46],[-.92,.54],[-.86,.6],[-.8,.66],[-.76,.6],[-.71,.57],[-.76,.54],[-.8,.64],[-.78,.72],[-.74,.78],[-.69,.79],[-.68,.86],[-.64,.84],[-.61,.83],[-.62,.76],[-.56,.78],[-.52,.74],[-.46,.76],[-.48,.68],[-.4,.74],[-.38,.8],[-.32,.78],[-.29,.78],[-.26,.85],[-.23,.8],[-.27,.75],[-.3,.72],[-.34,.68],[-.3,.64],[-.25,.62],[-.2,.56],[-.14,.52],[-.1,.52],[-.05,.55],[-.01,.6]],
  [[-1.36,.76],[-1.3,.8],[-1.24,.82],[-1.18,.86],[-1.12,.82],[-1.06,.84],[-1.02,.78],[-.98,.76],[-1.04,.72],[-1.1,.76],[-1.16,.78],[-1.22,.76],[-1.28,.72],[-1.34,.7],[-1.28,.68],[-1.2,.68],[-1.12,.7],[-1.06,.68],[-1.12,.64]],
  [[-.56,.76],[-.5,.72],[-.44,.76],[-.42,.71],[-.48,.73],[-.54,.72]],
  [[-.54,.5],[-.5,.58],[-.44,.54],[-.38,.58],[-.32,.56],[-.36,.5],[-.42,.46],[-.48,.5],[-.44,.42],[-.38,.44],[-.3,.48],[-.24,.52],[-.26,.44],[-.34,.4],[-.4,.36],[-.34,.34],[-.26,.38],[-.2,.42],[-.18,.32],[-.28,.3],[-.24,.24],[-.18,.2],[-.24,.16],[-.28,.08],[-.22,.06],[-.3,.04]],
  [[-.52,.52],[-.46,.56],[-.4,.52],[-.34,.54],[-.28,.5],[-.32,.46],[-.38,.48],[-.44,.46],[-.4,.42],[-.34,.44],[-.28,.4],[-.24,.36],[-.3,.36],[-.36,.38],[-.32,.32]],
  [[.05,1.12],[.02,1.08],[.08,1.04],[.1,1.14],[.15,1.1],[.12,1.18],[.2,1.2],[.26,1.15],[.3,1.13],[.22,1.06],[.16,1.0],[.2,.92],[.28,.88],[.34,.92],[.4,.86],[.46,.9],[.44,1.0],[.5,1.08],[.56,1.14],[.62,1.15],[.66,1.18],[.7,1.12],[.76,1.12],[.8,1.06],[.86,1.12],[.9,1.08],[.94,1.02],[.92,.94],[.86,.92],[.8,.96],[.74,1.02],[.68,.98],[.66,.92],[.6,.96],[.56,.9],[.6,.84],[.54,.82],[.52,.74],[.58,.68],[.54,.62],[.6,.58],[.66,.62],[.7,.7],[.64,.76],[.7,.8],[.62,.88],[.56,.76],[.62,.72],[.66,.82],[.72,.68],[.76,.72],[.8,.66],[.86,.66],[.9,.62],[.94,.6],[.94,.52],[.9,.56],[.84,.56],[.78,.64],[.72,.6],[.68,.5],[.64,.44],[.56,.4],[.5,.48],[.44,.56],[.4,.6],[.36,.68],[.3,.64],[.24,.6],[.18,.62],[.12,.56],[.08,.48]],
  [[.52,.86],[.58,.88],[.64,.89],[.7,.86],[.66,.82],[.6,.84],[.54,.8],[.6,.76],[.66,.78],[.68,.72],[.62,.68],[.58,.72],[.56,.66],[.62,.6],[.66,.56],[.66,.5]],
  [[.76,1.0],[.82,1.02],[.88,1.0],[.84,.96],[.78,.98]],
  [[.28,.3],[.36,.26],[.42,.3],[.5,.24],[.56,.18],[.62,.14],[.7,.12],[.78,.12],[.84,.1],[.9,.14],[.96,.12],[1.02,.1],[1.08,.08],[1.14,.12],[1.16,.2]],
  [[-.08,.55],[-.02,.62],[.05,.72],[.1,.82],[.15,.88]],
  [[-.06,-.16],[.02,-.22],[.1,-.24],[.16,-.3],[.24,-.26],[.3,-.22],[.38,-.26],[.44,-.3],[.5,-.32],[.56,-.4],[.62,-.44],[.68,-.5],[.76,-.56],[.82,-.52],[.9,-.46],[1.0,-.44],[1.06,-.36],[1.1,-.3],[1.16,-.38],[1.1,-.42]],
  [[1.08,.0],[1.12,-.06],[1.1,-.14],[1.16,-.18],[1.1,-.22],[1.06,-.26],[1.02,-.3],[.96,-.34]],
  [[-.56,-.76],[-.52,-.68],[-.46,-.64],[-.5,-.78],[-.42,-.72],[-.4,-.84]],
  [[-.2,-.02],[-.28,.02],[-.3,-.06],[-.24,-.1]],
  [[-.34,.2],[-.3,.12],[-.26,.04]],
];
const fOrangeBlobs: P[][][] = [
  [[[-.295,.376],[-.208,.44],[-.032,.474],[.011,.49],[.055,.409],[.165,.458],[.208,.44],[.198,.262],[.23,.246],[.099,.18],[.252,.132],[.296,.067],[.428,.05],[.493,.067],[.537,.115],[.668,.132],[.723,.067],[.603,.018],[.515,-.031],[.515,-.113],[.406,-.129],[.318,-.178],[.198,-.178],[.198,-.259],[.099,-.259],[.011,-.21],[-.032,-.259],[-.076,-.325],[-.032,-.422],[.055,-.488],[-.01,-.52],[-.098,-.65],[-.208,-.585],[-.24,-.52],[-.383,-.488],[-.47,-.439],[-.383,-.325],[-.251,-.292],[-.208,-.259],[-.273,-.178],[-.273,-.031],[-.251,.034],[-.273,.164],[-.208,.246],[-.251,.327]],
   [[.1,.165],[.19,.165],[.185,.1],[.11,.1]],[[-.03,.085],[.09,.085],[.08,.03],[-.03,.035]],[[-.2,.03],[-.13,.03],[-.13,-.02],[-.2,-.02]],[[-.02,.17],[.04,.17],[.04,.13],[-.02,.13]],[[.05,-.2],[.14,-.2],[.12,-.16],[.06,-.16]],[[-.33,-.47],[-.2,-.44],[-.14,-.52],[-.27,-.52]]],
  [[[-.58,-.70],[-.492,-.618],[-.405,-.602],[-.295,-.683],[-.208,-.732],[-.251,-.814],[-.383,-.748],[-.492,-.765],[-.58,-.765]]],
  [[[.603,.001],[.756,.001],[.734,-.21],[.636,-.21],[.614,-.113]]],
  [[[.406,.393],[.515,.393],[.537,.295],[.471,.246],[.406,.278]]],
  [[[.209,.735],[.384,.751],[.362,.702],[.318,.637],[.296,.572],[.23,.588]]],
  [[[.296,.523],[.384,.539],[.384,.458],[.296,.458]]],
  [[[.44,-.36],[.52,-.38],[.6,-.48],[.7,-.58],[.72,-.5],[.6,-.42],[.5,-.32]]],
  [[[1.02,.2],[1.12,.14],[1.16,.18],[1.14,.12],[1.06,.1],[1.0,.13]]],
  [[[.92,-.48],[1.1,-.47],[1.16,-.42],[1.06,-.44],[.96,-.43]]],
  [[[1.02,.0],[1.14,-.01],[1.15,-.1],[1.08,-.25],[1.04,-.2],[1.06,-.08],[1.0,-.04]]],
];
const fBlueFlecks: P[][] = [
  [[-.18,.3],[-.14,.27]],[[-.04,.3],[0,.26]],[[.08,.34],[.12,.3]],[[-.1,.16],[-.06,.12]],[[-.2,-.08],[-.16,-.12]],[[-.02,-.02],[.02,-.06]],[[.12,-.06],[.16,-.1]],[[.28,.0],[.32,-.04]],[[.4,-.05],[.44,-.09]],[[-.12,-.16],[-.08,-.2]],[[-.22,-.35],[-.18,-.38]],[[-.14,-.42],[-.1,-.46]],[[-.3,-.6],[-.26,-.63]],[[-.12,-.52],[-.08,-.55]],[[-.5,-.7],[-.46,-.73]],[[-.42,-.66],[-.38,-.7]],
];
const fOrange: P[][] = [
  [[-.06,.58],[-.032,.621],[.011,.686],[.077,.751],[.12,.76],[.187,.767],[.23,.784],[.21,.84],[.252,.898],[.29,.94],[.318,.963],[.35,.94],[.384,.914],[.37,.84],[.362,.767],[.42,.76],[.493,.719],[.44,.75],[.36,.72],[.274,.719],[.26,.65],[.23,.588],[.318,.523],[.37,.5],[.428,.49],[.493,.555],[.515,.507],[.471,.441],[.46,.36],[.471,.262],[.581,.295],[.6,.41],[.668,.458],[.74,.44],[.822,.409],[.88,.37],[.931,.327],[.953,.246],[1.0,.22],[1.04,.181],[1.1,.2],[1.128,.213],[1.128,.311],[1.16,.246],[1.1,.16],[.953,.2],[.9,.14],[.844,.14],[.756,.164],[.668,.213],[.603,.262]],
  [[.42,.2],[.5,.12],[.56,.02],[.5,-.08],[.44,-.04],[.4,-.1]],
  [[-.01,-.292],[.05,-.32],[.099,-.341],[.15,-.33],[.209,-.341],[.252,-.276],[.31,-.26],[.362,-.243],[.4,-.31],[.428,-.374],[.493,-.341],[.52,-.39],[.537,-.439],[.58,-.5],[.625,-.553],[.65,-.55],[.69,-.593],[.71,-.54],[.734,-.504],[.77,-.46],[.8,-.439],[.844,-.504],[.909,-.488],[.98,-.5],[1.04,-.488],[1.09,-.45],[1.15,-.439],[1.12,-.4],[1.085,-.357],[1.0,-.37],[.91,-.39],[.96,-.36],[.975,-.325],[1.0,-.243],[1.06,-.25],[1.13,-.26],[1.1,-.2],[1.085,-.129],[1.15,-.113],[1.12,-.06],[1.15,-.031],[1.08,.03],[1.02,.067],[.97,.04],[.93,.018],[.887,.058],[.865,-.031],[.8,-.01],[.734,.001],[.668,-.048],[.625,-.129],[.66,-.17],[.69,-.21],[.734,-.129]],
  [[-.646,-.349],[-.6,-.32],[-.558,-.308],[-.52,-.34],[-.492,-.357],[-.405,-.365],[-.47,-.33],[-.492,-.292],[-.514,-.227],[-.47,-.19],[-.427,-.145],[-.36,-.14],[-.295,-.113]],
  [[-.208,-.732],[-.12,-.748],[-.076,-.814],[-.032,-.814],[.011,-.716],[.05,-.7],[.077,-.667],[.121,-.602],[.099,-.52],[.055,-.504]],
  [[-.076,-.814],[-.1,-.85],[-.098,-.895],[-.06,-.87],[-.032,-.82],[.033,-.765],[.09,-.78],[.143,-.797],[.16,-.84],[.187,-.863],[.252,-.895]],
  [[-.45,-.6],[-.41,-.55],[-.43,-.5],[-.38,-.47]],
  [[.5,-.35],[.47,-.4],[.53,-.42],[.5,-.46],[.57,-.5],[.6,-.54],[.66,-.56],[.62,-.47]],
  [[1.14,-.08],[1.12,-.14],[1.06,-.02],[1.08,-.12],[1.02,-.02]],
  [[.88,-.42],[.92,-.38],[1.0,-.4],[1.06,-.37],[1.1,-.42],[1.04,-.46]],
];

// ---------- layout text
const frames = {
  a: { x0: 220, x1: 1131, y0: 144, y1: 858 },
  b: { x0: 1446, x1: 2358, y0: 144, y1: 858 },
  c: { x0: 2670, x1: 3582, y0: 144, y1: 858 },
  d: { x0: 220, x1: 1131, y0: 1179, y1: 1895 },
  e: { x0: 1446, x1: 2358, y0: 1179, y1: 1895 },
  f: { x0: 2670, x1: 3582, y0: 1179, y1: 1895 },
};

const SERIF = "'Liberation Serif', serif";
const TICK = "#4a4a4a";
type Seg = { t: string; i?: boolean; sub?: boolean; sup?: boolean };

function Rich({ segs, x, y, rotate, size = 54 }: { segs: Seg[]; x: number; y: number; rotate?: boolean; size?: number }) {
  let prev = 0;
  const kids = segs.map((s, k) => {
    const target = s.sub ? size * 0.3 : s.sup ? -size * 0.42 : 0;
    const dy = target - prev;
    prev = target;
    return (
      <tspan key={k} dy={dy} fontStyle={s.i ? "italic" : "normal"} fontSize={s.sub ? size * 0.8 : size}>
        {s.t}
      </tspan>
    );
  });
  return (
    <text x={rotate ? 0 : x} y={rotate ? 0 : y} textAnchor="middle" fontFamily={SERIF} fill={TICK} xmlSpace="preserve"
      transform={rotate ? `translate(${x},${y}) rotate(-90)` : undefined}>
      {kids}
    </text>
  );
}

function Panel({ f, sx, sy, xt, yt, xl, yl, lightTop, children }: any) {
  const fmt = (v: number) => (v < 0 ? "−" + String(-v) : String(v));
  return (
    <g>
      <g>{children}</g>
      <rect x={f.x0} y={f.y0} width={f.x1 - f.x0} height={f.y1 - f.y0} fill="none" stroke="#8f8f8f" strokeWidth={3} />
      {lightTop && <line x1={f.x0} x2={f.x1} y1={f.y0} y2={f.y0} stroke="#c4c4c4" strokeWidth={7} />}
      {xt.map((v: number, k: number) => (
        <g key={k}>
          <line x1={sx(v)} x2={sx(v)} y1={f.y1} y2={f.y1 - 9} stroke="#777" strokeWidth={3} />
          <line x1={sx(v)} x2={sx(v)} y1={f.y0} y2={f.y0 + 9} stroke="#777" strokeWidth={3} />
          <text x={sx(v)} y={f.y1 + 60} textAnchor="middle" fontFamily={SERIF} fontSize={47} fill={TICK}>{xl ? xl[k] : fmt(v)}</text>
        </g>
      ))}
      {yt.map((v: number, k: number) => (
        <g key={k}>
          <line y1={sy(v)} y2={sy(v)} x1={f.x0} x2={f.x0 + 9} stroke="#777" strokeWidth={3} />
          <line y1={sy(v)} y2={sy(v)} x1={f.x1} x2={f.x1 - 9} stroke="#777" strokeWidth={3} />
          <text x={f.x0 - 18} y={sy(v) + 15} textAnchor="end" fontFamily={SERIF} fontSize={47} fill={TICK}>{yl ? yl[k] : fmt(v)}</text>
        </g>
      ))}
    </g>
  );
}

function Title({ x, y, t }: { x: number; y: number; t: string }) {
  return <text x={x} y={y} textAnchor="middle" fontFamily={SERIF} fontWeight="bold" fontSize={53.6} fill="#111">{t}</text>;
}
function Letter({ x, y, c }: { x: number; y: number; c: string }) {
  return (
    <text x={x} y={y} textAnchor="middle" fontFamily={SERIF} fontSize={80} fill="#111">
      (<tspan fontWeight="bold">{c}</tspan>)
    </text>
  );
}

const shade: Record<string, string> = {
  so: ORANGE, mo: "#E2744A", lo: "#EBA283", po: "#F6D6C8", br: "#9C5B47", gb: "#5F83A3", sb: "#0B78C0", mb: "#338FCD", lb: "#7DB6DE", pb: "#BAD8EE",
};

export default function App() {
  const scale = (dom: number[], rng: number[]) => d3.scaleLinear().domain(dom).range(rng);
  const mk = (sx: any, sy: any) => d3.line<P>().x((d) => sx(d[0])).y((d) => sy(d[1]));
  const smooth = (sx: any, sy: any) => d3.line<P>().x((d) => sx(d[0])).y((d) => sy(d[1])).curve(d3.curveCatmullRom.alpha(0.5));

  const F = frames;
  const ax = scale([-1.5, 1.5], [F.a.x0, F.a.x1]), ay = scale([-1.5, 1], [F.a.y1, F.a.y0]);
  const bx = scale([-0.01, 0], [F.b.x0, F.b.x1]), by = scale([-0.01, 0.015], [F.b.y1, F.b.y0]);
  const cx = scale([-17.5, 2.5], [F.c.x0, F.c.x1]), cy = scale([-0.015, 0.025], [F.c.y1, F.c.y0]);
  const dx = scale([-10, 10], [F.d.x0, F.d.x1]), dy = scale([-48, 48], [F.d.y1, F.d.y0]);
  const ex = scale([-11, 11], [F.e.x0, F.e.x1]), ey = scale([-11, 11], [F.e.y1, F.e.y0]);
  const fx = scale([-4, 2], [F.f.x0, F.f.x1]), fy = scale([-1, 2.5], [F.f.y1, F.f.y0]);
  const inset = { x0: 1855, x1: 2289, y0: 197, y1: 505 };
  const ix = scale([-6.82, -6.81], [inset.x0, inset.x1]), iy = scale([0, 4], [227, 454]);

  const la = mk(ax, ay), las = smooth(ax, ay), lb = mk(bx, by), lc = mk(cx, cy), ld = mk(dx, dy), le = smooth(ex, ey), lf = mk(fx, fy), li = mk(ix, iy);

  return (
    <svg width={3633} height={2200} viewBox="0 0 3633 2200" style={{ position: "absolute", left: 0, top: 0, background: "#fff", filter: "blur(0.9px)" }}>
      {/* a */}
      <Panel f={F.a} sx={ax} sy={ay} xt={aXTicks} yt={aYTicks}>
        {aBlueHatch.map((r, k) => <path key={k} d={la(r) + "Z"} fill={BLUE} opacity={0.48} />)}
        {aBlueDense.map((r, k) => <path key={k} d={la(r) + "Z"} fill={BLUE} opacity={0.88} />)}
        {aBlueSolid.map((r, k) => <path key={k} d={r.map((p) => la(p) + "Z").join("")} fill={BLUE} fillRule="evenodd" />)}
        {aBlueLines.map((l, k) => <path key={k} d={la(l)!} fill="none" stroke={BLUE} strokeWidth={2.8} opacity={0.92} />)}
        {aBlueArcs.map((l, k) => <path key={k} d={las(l)!} fill="none" stroke={BLUE} strokeWidth={2.8} opacity={0.92} />)}
        {aOrangeThin.map((l, k) => <path key={k} d={la(l)!} fill="none" stroke={ORANGE} strokeWidth={5} strokeLinejoin="round" />)}
        {aOrangeArcs.map((l, k) => <path key={k} d={las(l)!} fill="none" stroke={ORANGE} strokeWidth={6.5} strokeLinejoin="round" />)}
        {aOrangeChords.map((l, k) => <path key={k} d={la(l)!} fill="none" stroke={ORANGE} strokeWidth={6.5} strokeLinejoin="round" />)}
      </Panel>
      <Title x={670} y={68} t="Motion Control for" />
      <Title x={658} y={129} t="X- & Y- Traverse" />
      <Rich x={679} y={1001} segs={[{ t: "f", i: true }, { t: "V-X", sub: true }, { t: " (×10" }, { t: "−3", sup: true }, { t: "m/s)" }]} />
      <Rich rotate x={78} y={499} segs={[{ t: "f", i: true }, { t: "V-Y", sub: true }, { t: " (×10" }, { t: "−3", sup: true }, { t: "m/s)" }]} />
      <Letter x={672} y={1100} c="a" />

      {/* b */}
      <Panel f={F.b} sx={bx} sy={by} xt={bXTicks} yt={bYTicks} xl={bXLabels} yl={bYLabels}>
        <path d={lb(bBlue)!} fill="none" stroke={BLUE} strokeWidth={6} strokeLinejoin="round" />
        <path d={lb(bOrange)!} fill="none" stroke={ORANGE} strokeWidth={6} />
      </Panel>
      <g>
        <rect x={inset.x0} y={inset.y0} width={inset.x1 - inset.x0} height={inset.y1 - inset.y0} fill="#fff" stroke="#8f8f8f" strokeWidth={3} />
        <path d={li(bInsetOrange)!} fill="none" stroke="#EBA283" strokeWidth={6} />
        {bInsetXTicks.map((v, k) => (
          <g key={k}>
            <line x1={ix(v)} x2={ix(v)} y1={inset.y1} y2={inset.y1 - 6} stroke="#777" strokeWidth={3} />
            <text x={ix(v)} y={inset.y1 + 50} textAnchor="middle" fontFamily={SERIF} fontSize={38} fill={TICK}>{bInsetXLabels[k]}</text>
          </g>
        ))}
        {bInsetYTicks.map((v, k) => (
          <g key={k}>
            <line y1={iy(v)} y2={iy(v)} x1={inset.x0} x2={inset.x0 + 5} stroke="#777" strokeWidth={3} />
            <line y1={iy(v)} y2={iy(v)} x1={inset.x1} x2={inset.x1 - 5} stroke="#777" strokeWidth={3} />
            <text x={inset.x0 - 14} y={iy(v) + 13} textAnchor="end" fontFamily={SERIF} fontSize={38} fill={TICK}>{bInsetYLabels[k]}</text>
          </g>
        ))}
      </g>
      <Title x={1902} y={128} t="Motion Control for X- & Y- Traverse" />
      <Rich x={1900} y={988} segs={[{ t: "η", i: true }, { t: "X", sub: true }, { t: " (1)" }]} />
      <Rich rotate x={1248} y={502} segs={[{ t: "η", i: true }, { t: "Y", sub: true }, { t: " (1)" }]} />
      <Letter x={1909} y={1100} c="b" />

      {/* c */}
      <Panel f={F.c} sx={cx} sy={cy} xt={cXTicks} yt={cYTicks} yl={cYLabels}>
        <path d={lc(cBlue)! + "Z"} fill={BLUE} stroke={BLUE} strokeWidth={3} strokeLinejoin="round" />
        <path d={lc(cOrange)! + "Z"} fill={ORANGE} stroke={ORANGE} strokeWidth={3} strokeLinejoin="round" />
      </Panel>
      <Title x={3127} y={128} t="Motion Control for X- & Y- Traverse" />
      <Rich x={3131} y={1002} segs={[{ t: "I", i: true }, { t: "X-dof", sub: true }, { t: " (×10" }, { t: "−3", sup: true }, { t: "A)" }]} />
      <Rich rotate x={2473} y={497} segs={[{ t: "I", i: true }, { t: "Y-dof", sub: true }, { t: " (A)" }]} />
      <Letter x={3142} y={1100} c="c" />

      {/* d */}
      <Panel f={F.d} sx={dx} sy={dy} xt={dXTicks} yt={dYTicks} lightTop>
        {dUpper.map((b, k) => <rect key={k} x={dx(b[0])} width={dx(b[1]) - dx(b[0])} y={dy(48)} height={dy(0) - dy(48)} fill={shade[b[2]]} />)}
        {dLower.map((b, k) => <rect key={k} x={dx(b[0])} width={dx(b[1]) - dx(b[0])} y={dy(0)} height={dy(-48) - dy(0)} fill={shade[b[2]]} />)}
        {dEdgesOrange.map((l, k) => <path key={k} d={ld(l)!} fill="none" stroke="#EBA283" strokeWidth={3.5} />)}
        {dEdgesBlue.map((l, k) => <path key={k} d={ld(l)!} fill="none" stroke="#338FCD" strokeWidth={3} />)}
      </Panel>
      <Title x={677} y={1166} t="Motion Control for Z- Rotation" />
      <Rich x={677} y={2022} segs={[{ t: "I" }, { t: "Z-dof", sub: true }, { t: " (A)" }]} />
      <Rich rotate x={84} y={1538} segs={[{ t: "V" }, { t: "Z-dof", sub: true }, { t: " (V)" }]} />
      <Letter x={674} y={2171} c="d" />

      {/* e */}
      <Panel f={F.e} sx={ex} sy={ey} xt={eTicks} yt={eTicks} xl={eLabels} yl={eLabels} lightTop>
        {eBlue.map((l, k) => <path key={k} d={le(l)!} fill="none" stroke={BLUE} strokeWidth={6} />)}
        <path d={le(eOrange)!} fill="none" stroke={ORANGE} strokeWidth={6} />
      </Panel>
      <Title x={1902} y={1166} t="Vortex Core in Lab Frame" />
      <Rich x={1908} y={2022} segs={[{ t: "B", i: true }, { t: "X", sub: true }, { t: " (T)" }]} />
      <Rich rotate x={1248} y={1531} segs={[{ t: "B", i: true }, { t: "Y", sub: true }, { t: " (T)" }]} />
      <Letter x={1928} y={2162} c="e" />

      {/* f */}
      <Panel f={F.f} sx={fx} sy={fy} xt={fXTicks} yt={fYTicks} lightTop>
        {fBlueDense.map((r, k) => <path key={k} d={r.map((p) => lf(p) + "Z").join("")} fill={BLUE} fillRule="evenodd" opacity={0.5} />)}
        {fBlue.map((l, k) => <path key={k} d={lf(l)!} fill="none" stroke={BLUE} strokeWidth={3.6} strokeLinejoin="round" />)}
        {fOrangeBlobs.map((r, k) => <path key={k} d={r.map((p) => lf(p) + "Z").join("")} fill={ORANGE} fillRule="evenodd" stroke={ORANGE} strokeWidth={4} strokeLinejoin="round" />)}
        {fOrange.map((l, k) => <path key={k} d={lf(l)!} fill="none" stroke={ORANGE} strokeWidth={5.5} strokeLinejoin="round" />)}
        {fBlueFlecks.map((l, k) => <path key={k} d={lf(l)!} fill="none" stroke="#5F83A3" strokeWidth={4} />)}
      </Panel>
      <Title x={3119} y={1166} t="Bacterium in Vortex Frame" />
      <Rich x={3127} y={2036} segs={[{ t: "Γ" }, { t: " r", i: true, sub: true }, { t: " (×10" }, { t: "−6", sup: true }, { t: "m)" }]} />
      <Rich rotate x={2520} y={1538} segs={[{ t: "Γ" }, { t: "θ", i: true, sub: true }, { t: " (×10" }, { t: "−6", sup: true }, { t: "m)" }]} />
      <Letter x={3163} y={2162} c="f" />
    </svg>
  );
}
